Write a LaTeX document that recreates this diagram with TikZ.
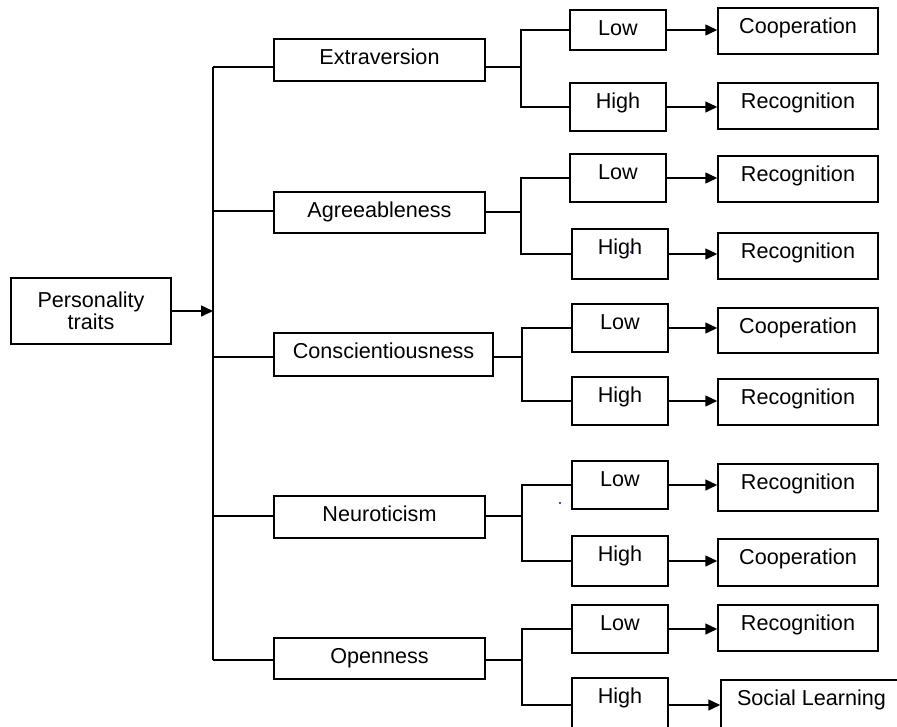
\documentclass[tikz,border=0pt]{standalone}
\usepackage{fontspec}
\setmainfont{Liberation Sans}
\usetikzlibrary{arrows.meta}
\begin{document}
\begin{tikzpicture}[x=1pt,y=-1pt,
  every node/.style={font=\fontsize{21.6}{22.5}\selectfont},
  wire/.style={draw=black, line width=1.5pt},
  arrow/.style={wire, -{Triangle[length=12pt,width=11pt]}},
  box/.style={draw=black, line width=1.5pt, inner sep=0pt},
  % box of given width and height, text baseline 25pt below the top edge
  bx/.style 2 args={box, minimum width=#1, minimum height=#2,
    text height=25pt, text depth=#2-25pt}]
\useasboundingbox (0,0) rectangle (897,726);
\clip (0,0) rectangle (897,726);

% root
\node[box, minimum width=160, minimum height=66, align=center] (pt) at (91,311) {Personality\\traits};

% the five traits
\node[bx={211}{42}] (ext) at (379.5,60)    {Extraversion};
\node[bx={211}{41}] (agr) at (379.5,212.5) {Agreeableness};
\node[bx={219}{43}] (con) at (383.5,354.5) {Conscientiousness};
\node[bx={211}{42}] (neu) at (379.5,517)   {Neuroticism};
\node[bx={211}{41}] (ope) at (379.5,658.5) {Openness};

% trunk points and bracket junctions
\coordinate (t1) at (213,67);  \coordinate (j1) at (521,67);
\coordinate (t2) at (213,211); \coordinate (j2) at (521,212);
\coordinate (t3) at (213,357); \coordinate (j3) at (522,357);
\coordinate (t4) at (213,516); \coordinate (j4) at (522,516);
\coordinate (t5) at (213,660); \coordinate (j5) at (522,660);

% low / high levels
\node[bx={96}{40}] (ext-lo) at (618,30)  {Low};
\node[bx={96}{48}] (ext-hi) at (618,107) {High};
\node[bx={96}{48}] (agr-lo) at (618,178) {Low};
\node[bx={96}{50}] (agr-hi) at (620,254) {High};
\node[bx={96}{48}] (con-lo) at (620,328) {Low};
\node[bx={96}{48}] (con-hi) at (620,401) {High};
\node[bx={96}{48}] (neu-lo) at (620,485) {Low};
\node[bx={96}{50}] (neu-hi) at (620,561) {High};
\node[bx={96}{48}] (ope-lo) at (620,629) {Low};
\node[bx={96}{54}] (ope-hi) at (620,705) {High};

% outcomes
\node[bx={160}{46}] (ext-lo-r) at (798,31)    {Cooperation};
\node[bx={160}{46}] (ext-hi-r) at (798,106)   {Recognition};
\node[bx={160}{46}] (agr-lo-r) at (798,179)   {Recognition};
\node[bx={160}{46}] (agr-hi-r) at (798,256)   {Recognition};
\node[bx={160}{45}] (con-lo-r) at (798,330.5) {Cooperation};
\node[bx={160}{46}] (con-hi-r) at (798,402)   {Recognition};
\node[bx={160}{47}] (neu-lo-r) at (798,487.5) {Recognition};
\node[bx={160}{47}] (neu-hi-r) at (798,562.5) {Cooperation};
\node[bx={160}{46}] (ope-lo-r) at (798,628)   {Recognition};
\node[bx={181}{48}] (ope-hi-r) at (811.5,704) {Social Learning};

% trunk and root arrow
\draw[wire] (t1) -- (t5);
\draw[arrow] (pt.east) -- (pt.east -| t1);

% branches
\foreach \tr/\k in {ext/1, agr/2, con/3, neu/4, ope/5}{
  \draw[wire] (t\k) -- (t\k -| \tr.west);
  \draw[wire] (\tr.east |- j\k) -- (j\k);
  \draw[wire] (\tr-lo.west) -| (j\k) |- (\tr-hi.west);
  \draw[arrow] (\tr-lo.east) -- (\tr-lo.east -| \tr-lo-r.west);
  \draw[arrow] (\tr-hi.east) -- (\tr-hi.east -| \tr-hi-r.west);
}

% stray specks
\fill[blue] (631,252) circle[radius=1.2];
\fill[blue] (560,503) circle[radius=1.2];
\end{tikzpicture}
\end{document}
